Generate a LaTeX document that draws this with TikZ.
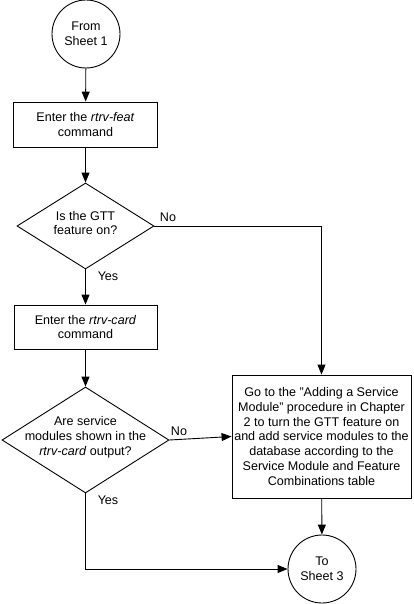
\documentclass[tikz,border=0pt]{standalone}
\usepackage{fontspec}
\setmainfont{Liberation Sans}
\usetikzlibrary{shapes.geometric,arrows.meta}
\begin{document}
\begin{tikzpicture}[x=1bp,y=-1bp,
  every node/.style={font=\fontsize{12.6}{15}\selectfont},
  line/.style={draw=black, line width=0.9pt},
  arr/.style={line, -{Triangle[length=10pt,width=8pt]}},
  term/.style={circle, line, minimum size=68bp, inner sep=0pt, align=center},
  proc/.style={rectangle, line, inner sep=0pt, align=center},
  dia/.style={diamond, line, inner sep=0pt},
  txt/.style={align=center, inner sep=0pt},
  lbl/.style={inner sep=0pt}
]
\useasboundingbox (0,0) rectangle (413,604);
\node[term] (c1) at (86,34) {From\\Sheet 1};
\node[proc, minimum width=144bp, minimum height=45bp] (b1) at (85.5,124.5) {Enter the \textit{rtrv-feat}\\command};
\node[dia, minimum width=137bp, minimum height=86bp] (d1) at (85.5,226) {};
\node[txt] (t1) at (85.5,223) {Is the GTT\\feature on?};
\node[proc, minimum width=143bp, minimum height=44bp] (b2) at (85.5,327) {Enter the \textit{rtrv-card}\\command};
\node[dia, minimum width=167bp, minimum height=106bp] (d2) at (85.5,440) {};
\node[txt] (t2) at (85.5,437) {Are service\\modules shown in the\\\textit{rtrv-card} output?};
\node[proc, minimum width=179bp, minimum height=123bp] (rb) at (321.5,436.5) {Go to the \char34 Adding a Service\\Module\char34{} procedure in Chapter\\2 to turn the GTT feature on\\and add service modules to the\\database according to the\\Service Module and Feature\\Combinations table};
\node[term] (c2) at (322,569) {To\\Sheet 3};
\node[lbl] (n1) at (168,217) {No};
\node[lbl] (y1) at (108,276) {Yes};
\node[lbl] (n2) at (179,431) {No};
\node[lbl] (y2) at (108,500) {Yes};
\draw[arr] (c1) -- (b1);
\draw[arr] (b1) -- (d1.north);
\draw[arr] (d1.south) -- (b2);
\draw[arr] (b2) -- (d2.north);
\draw[arr] (d1.east) -| (rb.north);
\draw[arr] (d2.east) -- (rb.west);
\draw[arr] (rb) -- (c2);
\draw[arr] (d2.south) |- (c2.west);
\end{tikzpicture}
\end{document}
